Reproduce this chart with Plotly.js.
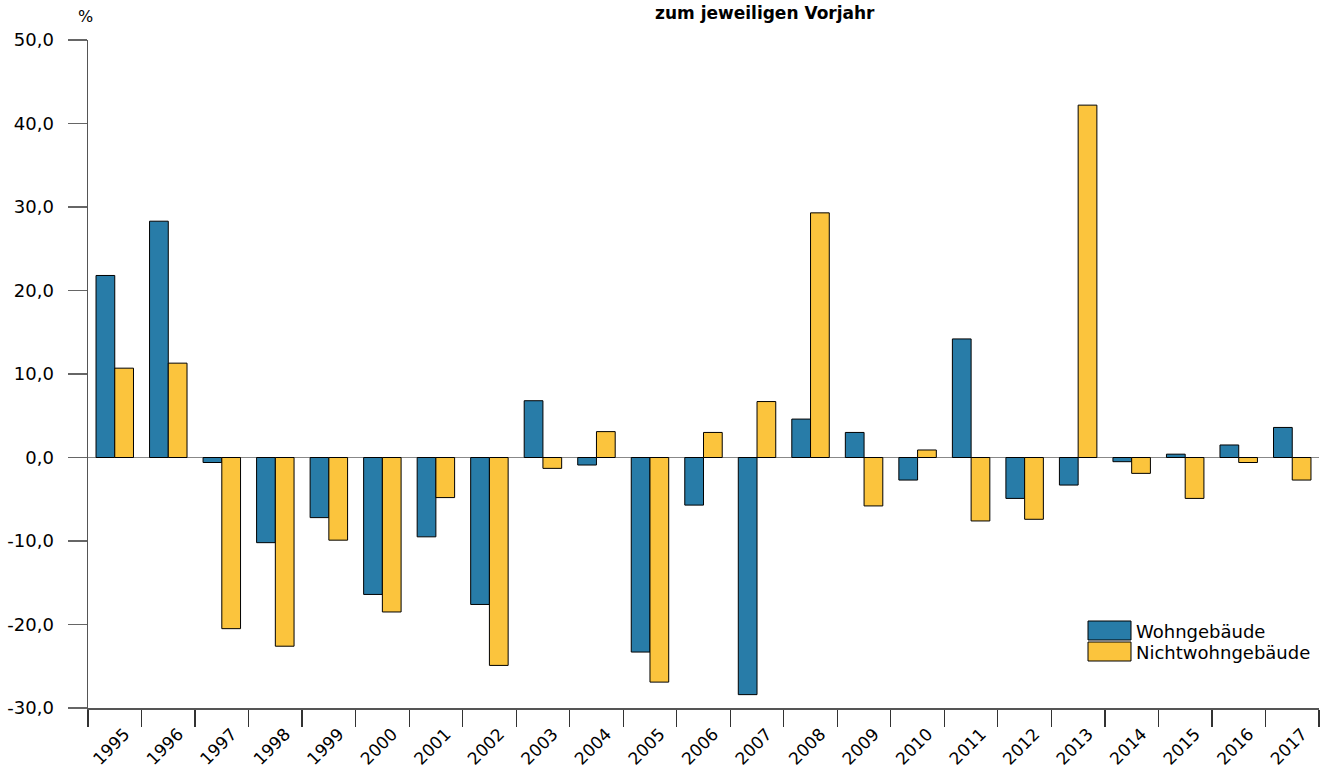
<!DOCTYPE html>
<html>
<head>
<meta charset="utf-8">
<script src="https://cdn.plot.ly/plotly-3.0.1.min.js"></script>
<style>html,body{margin:0;padding:0;background:#fff;}#chart{width:1327px;height:771px;}</style>
</head>
<body>
<div id="chart"></div>
<script>
const years = ['1995','1996','1997','1998','1999','2000','2001','2002','2003','2004','2005','2006','2007','2008','2009','2010','2011','2012','2013','2014','2015','2016','2017'];
const wohngebaeude = [21.8, 28.3, -0.6, -10.2, -7.2, -16.4, -9.5, -17.6, 6.8, -0.9, -23.3, -5.7, -28.4, 4.6, 3.0, -2.7, 14.2, -4.9, -3.3, -0.5, 0.4, 1.5, 3.6];
const nichtwohngebaeude = [10.7, 11.3, -20.5, -22.6, -9.9, -18.5, -4.8, -24.9, -1.3, 3.1, -26.9, 3.0, 6.7, 29.3, -5.8, 0.9, -7.6, -7.4, 42.2, -1.9, -4.9, -0.6, -2.7];
const seriesNames = ['Wohngebäude', 'Nichtwohngebäude'];
const yTickVals = [-30, -20, -10, 0, 10, 20, 30, 40, 50];
const yTickText = ['-30,0', '-20,0', '-10,0', '0,0', '10,0', '20,0', '30,0', '40,0', '50,0'];
const titleText = 'zum jeweiligen Vorjahr';
const unitLabel = '%';

const colors = ['#287ca8', '#fbc43d'];
const FONT = 'DejaVu Sans, Liberation Sans, Arial, sans-serif';

const W = 1327, H = 771;
const M = {l: 88, r: 8, t: 40, b: 63};
const pw = W - M.l - M.r, ph = H - M.t - M.b;
const px = x => (x - M.l) / pw;
const py = y => (H - M.b - y) / ph;

const traces = [wohngebaeude, nichtwohngebaeude].map((vals, i) => ({
  type: 'bar',
  x: years,
  y: vals,
  name: seriesNames[i],
  marker: {color: colors[i], line: {color: '#000', width: 1}},
  showlegend: false,
  hoverinfo: 'x+y+name'
}));

const shapes = [];
const annotations = [];
// custom legend
const legTop = [621, 642];
seriesNames.forEach((n, i) => {
  shapes.push({type: 'rect', xref: 'paper', yref: 'paper',
    x0: px(1088), x1: px(1131), y0: py(legTop[i] + 19), y1: py(legTop[i]),
    fillcolor: colors[i], line: {color: '#000', width: 1}});
  annotations.push({xref: 'paper', yref: 'paper', x: px(1134), y: py(legTop[i] + 10),
    xanchor: 'left', yanchor: 'middle', text: n, showarrow: false,
    font: {family: FONT, size: 18, color: '#000'}});
});
annotations.push({xref: 'paper', yref: 'paper', x: px(85), y: py(17), xanchor: 'center', yanchor: 'middle',
  text: unitLabel, showarrow: false, font: {family: FONT, size: 16, color: '#000'}});
annotations.push({xref: 'paper', yref: 'paper', x: px(765), y: py(1), xanchor: 'center', yanchor: 'top',
  text: '<b>' + titleText + '</b>', showarrow: false, font: {family: FONT, size: 17, color: '#000'}});

const layout = {
  width: W, height: H,
  margin: M,
  paper_bgcolor: '#fff', plot_bgcolor: '#fff',
  separators: ',.',
  barmode: 'group',
  bargap: 0.3,
  bargroupgap: 0,
  font: {family: FONT, size: 16, color: '#000'},
  xaxis: {
    type: 'category',
    showline: true, linecolor: '#555', linewidth: 1.5,
    ticks: 'outside', tickson: 'boundaries', ticklen: 17, tickcolor: '#333', tickwidth: 1.2,
    tickangle: -45,
    ticklabelstandoff: 8, ticklabelshift: 10,
    tickfont: {family: FONT, size: 17, color: '#000'},
    showgrid: false, zeroline: false, fixedrange: true
  },
  yaxis: {
    range: [-30, 50],
    tickmode: 'array', tickvals: yTickVals, ticktext: yTickText,
    showline: true, linecolor: '#555', linewidth: 1.5,
    ticks: 'outside', ticklen: 19, tickcolor: '#666', tickwidth: 1.2,
    ticklabelstandoff: 10,
    tickfont: {family: FONT, size: 18, color: '#000'},
    showgrid: false,
    zeroline: true, zerolinecolor: '#888', zerolinewidth: 1.5,
    fixedrange: true
  },
  shapes: shapes,
  annotations: annotations
};

Plotly.newPlot('chart', traces, layout, {displayModeBar: false, staticPlot: true});
</script>
</body>
</html>
